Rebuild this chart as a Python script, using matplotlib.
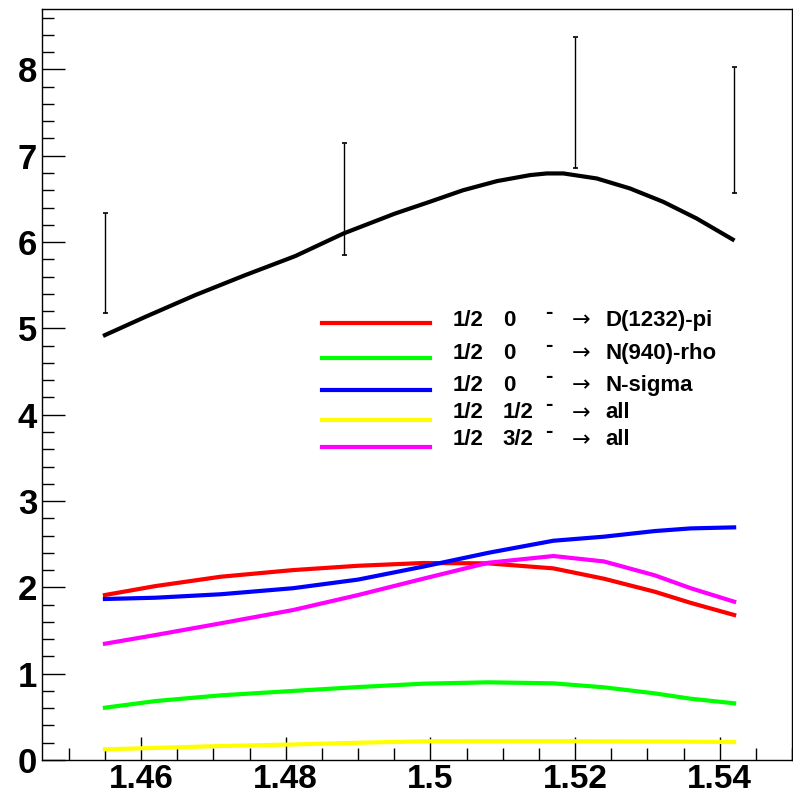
import matplotlib
matplotlib.use('Agg')
import matplotlib.pyplot as plt
from matplotlib.lines import Line2D
from matplotlib.ticker import MultipleLocator, FuncFormatter

plt.rcParams['font.family'] = ['Liberation Sans', 'DejaVu Sans']

# measured points with errors
x_pts = [1.455, 1.488, 1.520, 1.542]
y_pts = [5.756, 6.50, 7.62, 7.295]
y_err = [0.579, 0.65, 0.76, 0.73]

# total fit curve
x_tot = [1.455, 1.4606, 1.4675, 1.4744, 1.4813, 1.488, 1.4951, 1.4999, 1.5045,
         1.5092, 1.5138, 1.5161, 1.5184, 1.5230, 1.5276, 1.5322, 1.5368, 1.5418]
y_tot = [4.922, 5.134, 5.386, 5.617, 5.837, 6.10, 6.33, 6.466, 6.60,
         6.706, 6.776, 6.795, 6.795, 6.737, 6.621, 6.466, 6.274, 6.03]

# partial wave contributions
x_pw = [1.455, 1.462, 1.471, 1.481, 1.490, 1.499, 1.508, 1.517, 1.524, 1.531, 1.536, 1.542]
y_dpi = [1.911, 2.015, 2.123, 2.20, 2.25, 2.282, 2.278, 2.22, 2.10, 1.95, 1.82, 1.68]
y_nrho = [0.606, 0.683, 0.749, 0.80, 0.845, 0.884, 0.90, 0.888, 0.842, 0.772, 0.71, 0.657]
y_nsig = [1.865, 1.88, 1.92, 1.99, 2.09, 2.24, 2.40, 2.54, 2.587, 2.652, 2.683, 2.695]
y_half = [0.124, 0.14, 0.162, 0.18, 0.20, 0.216, 0.218, 0.218, 0.216, 0.214, 0.212, 0.208]
y_3half = [1.347, 1.448, 1.583, 1.737, 1.911, 2.10, 2.285, 2.363, 2.30, 2.14, 1.99, 1.834]

# legend text pieces
iso = ['1/2', '1/2', '1/2', '1/2', '1/2']
spin = ['0', '0', '0', '1/2', '3/2']
channel = ['D(1232)-pi', 'N(940)-rho', 'N-sigma', 'all', 'all']
colors = ['#ff0000', '#00ff00', '#0000ff', '#ffff00', '#ff00ff']

fig = plt.figure(figsize=(7.93, 7.99), dpi=100)
ax = fig.add_axes([42/793, 39/799, 750/793, 751/799])

ax.errorbar(x_pts, y_pts, yerr=y_err, fmt='none', ecolor='black',
            elinewidth=1.0, capsize=1.8, capthick=1.2, zorder=2)
ax.plot(x_tot, y_tot, color='black', lw=3, zorder=3, solid_joinstyle='round')

series = [y_dpi, y_nrho, y_nsig, y_half, y_3half]
for ys, c in zip(series, colors):
    ax.plot(x_pw, ys, color=c, lw=3, zorder=3, solid_joinstyle='round')

ax.set_xlim(1.4463, 1.5500)
ax.set_ylim(0, 8.70)

#ticks ROOT style
ax.xaxis.set_major_locator(MultipleLocator(0.02))
ax.xaxis.set_minor_locator(MultipleLocator(0.005))
ax.yaxis.set_major_locator(MultipleLocator(1))
ax.yaxis.set_minor_locator(MultipleLocator(0.2))
ax.xaxis.set_major_formatter(FuncFormatter(lambda v, p: ('%.2f' % v).rstrip('0')))
ax.yaxis.set_major_formatter(FuncFormatter(lambda v, p: '%d' % round(v)))
ax.tick_params(axis='both', which='major', direction='in', length=16.5, width=1)
ax.tick_params(axis='both', which='minor', direction='in', length=8.5, width=1)
ax.tick_params(axis='y', pad=3.5, labelsize=25)
ax.tick_params(axis='x', pad=3.0, labelsize=24)
ax.tick_params(top=False, right=False, which='both')
for label in ax.get_xticklabels() + ax.get_yticklabels():
    label.set_fontweight('bold')
for s in ax.spines.values():
    s.set_linewidth(1)

#legend
line_x = (0.3729, 0.5173)
line_y = [0.5819, 0.5349, 0.4923, 0.4523, 0.4168]
text_y = [0.5852, 0.5415, 0.4993, 0.4621, 0.4261]
for i in range(len(channel)):
    ax.add_line(Line2D(line_x, [line_y[i], line_y[i]], transform=ax.transAxes,
                       color=colors[i], lw=3))
    ty = text_y[i]
    ax.text(0.548, ty, iso[i], transform=ax.transAxes, fontsize=16,
            fontweight='bold', ha='left', va='center')
    ax.text(0.6143, ty, spin[i], transform=ax.transAxes, fontsize=16,
            fontweight='bold', ha='left', va='center')
    ax.text(0.6707, ty + 0.011, '-', transform=ax.transAxes, fontsize=16,
            fontweight='bold', ha='left', va='center')
    ax.text(0.7063, ty, '\u2192', transform=ax.transAxes, fontsize=16,
            ha='left', va='center', family=['DejaVu Sans'])
    ax.text(0.7507, ty, channel[i], transform=ax.transAxes, fontsize=16,
            fontweight='bold', ha='left', va='center')

plt.savefig('out.png', dpi=100)
